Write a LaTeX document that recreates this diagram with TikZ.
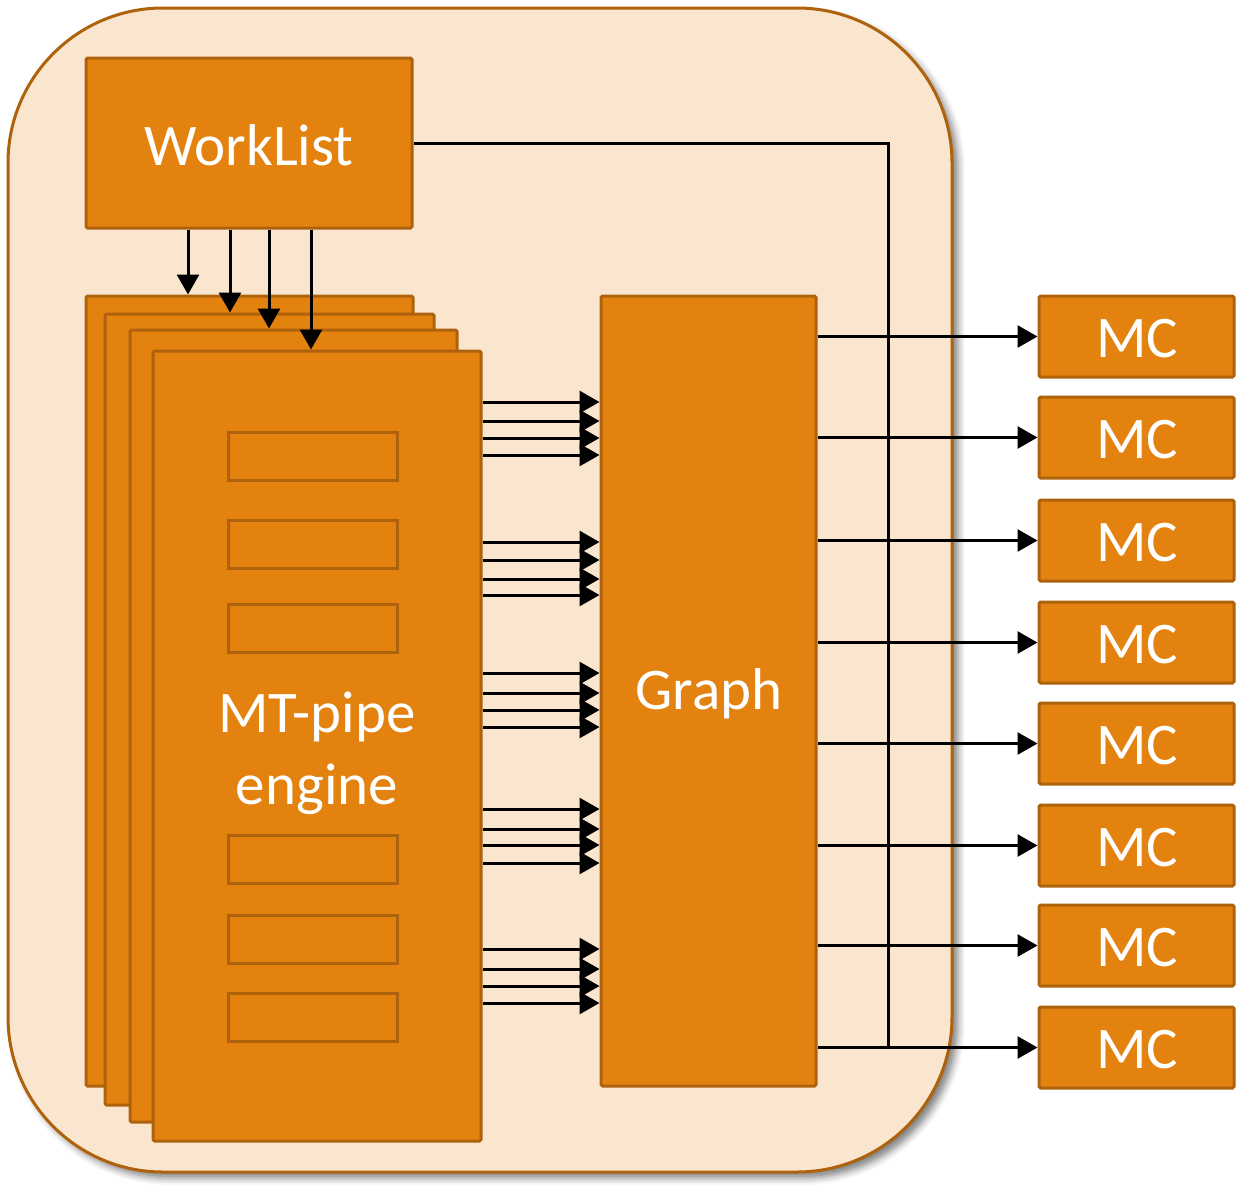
\documentclass[tikz,border=0pt]{standalone}
\usepackage{fontspec}
\setmainfont{Carlito}
\usetikzlibrary{arrows.meta,shadows.blur}
\definecolor{orfill}{HTML}{E4820F}
\definecolor{orline}{HTML}{AE620C}
\definecolor{bgfill}{HTML}{FAE6CF}
\tikzset{
  obox/.style={draw=orline, fill=orfill, line width=3pt, inner sep=0pt, rounded corners=1.5pt, text=white,
    font=\fontsize{59}{70}\selectfont},
  slot/.style={draw=orline, fill=orfill, line width=3pt, inner sep=0pt, minimum width=169pt, minimum height=48pt},
  wtext/.style={text=white, align=center, inner sep=0pt, font=\fontsize{59}{72}\selectfont},
  conn/.style={draw=black, line width=3pt},
  arr/.style={conn, -{Triangle[length=20pt,width=22pt]}},
}
\begin{document}
\begin{tikzpicture}[x=1pt,y=-1pt]
\useasboundingbox (0,0) rectangle (1242,1187);
% outer container
\node (outer) [draw=orline, fill=bgfill, line width=3pt, rounded corners=155pt, inner sep=0pt,
  minimum width=944pt, minimum height=1164pt,
  blur shadow={shadow xshift=6pt, shadow yshift=-6pt, shadow blur radius=7pt, shadow opacity=50}] at (480,590) {};
% WorkList
\node (wl) [obox, minimum width=326pt, minimum height=170pt] at (249,143) {};
\node (wltxt) [wtext] at (249,145) {WorkList};
% engine stack
\node (eng1) [obox, minimum width=327pt, minimum height=790pt] at (249.5,691) {};
\node (eng2) [obox, minimum width=329pt, minimum height=791pt] at (269.5,709.5) {};
\node (eng3) [obox, minimum width=327pt, minimum height=792pt] at (293.5,726) {};
\node (eng4) [obox, minimum width=328pt, minimum height=790pt] at (317,746) {};
\foreach \n/\y in {s1/456, s2/544, s3/628, s4/859, s5/939, s6/1017}
  \node (\n) [slot] at (312.5,\y) {};
\node (engtxt) [wtext] at (317,753) {MT-pipe\\engine};
% Graph
\node (graph) [obox, minimum width=215pt, minimum height=790pt] at (708.5,691) {};
\node (graphtxt) [wtext] at (709,694) {Graph};
% MC boxes
\foreach \i/\y in {1/336.5, 2/437.5, 3/540.5, 4/642.5, 5/743.5, 6/845.5, 7/945.5, 8/1047.5}
  \node (mc\i) [obox, minimum width=195pt, minimum height=81pt] at (1136.5,\y) {};
\foreach \i/\y in {1/338.5, 2/439.5, 3/542.5, 4/644.5, 5/745.5, 6/847.5, 7/947.5, 8/1049.5}
  \node (mct\i) [wtext] at (1137,\y) {MC};
% WorkList -> engines
\draw[arr] (wl.south -| 188,0) -- (eng1.north -| 188,0);
\draw[arr] (wl.south -| 230,0) -- (eng2.north -| 230,0);
\draw[arr] (wl.south -| 269,0) -- (eng3.north -| 269,0);
\draw[arr] (wl.south -| 311,0) -- (eng4.north -| 311,0);
% engines -> Graph
\foreach \y in {402,421,438,455, 542,560,579,595, 673,693,710,727, 809,829,845,863, 949,969,986,1003}
  \draw[arr] (eng4.east |- 0,\y) -- (graph.west |- 0,\y);
% Graph -> MC
\foreach \i in {1,...,8}
  \draw[arr] (graph.east |- mc\i.west) -- (mc\i.west);
% WorkList bypass line
\coordinate (join) at (888,1047.5);
\draw[conn] (wl.east) -| (join);
\end{tikzpicture}
\end{document}
